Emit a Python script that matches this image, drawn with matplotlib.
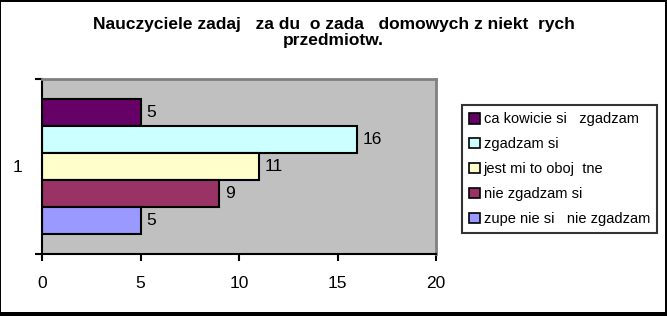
import numpy as np
import matplotlib
matplotlib.use('Agg')
import matplotlib.pyplot as plt
from matplotlib.patches import Rectangle

plt.rcParams['font.family'] = ['Liberation Sans', 'DejaVu Sans']

title = 'Nauczyciele zadaj   za du  o zada   domowych z niekt  rych\nprzedmiotw.'
labels = ['ca kowicie si   zgadzam', 'zgadzam si', 'jest mi to oboj  tne',
          'nie zgadzam si', 'zupe nie si   nie zgadzam']
values = [5, 16, 11, 9, 5]
colors = ['#660066', '#CCFFFF', '#FFFFCC', '#993366', '#9999FF']
category = '1'
xticks = [0, 5, 10, 15, 20]

W, H = 667, 316
fig = plt.figure(figsize=(W / 100, H / 100), dpi=100, facecolor='black')

# white chart area with black frame / shadow
fig.patches.append(Rectangle((1.5 / W, 4.3 / H), (665 - 1.5) / W, (311.7 - 1.5) / H,
                             transform=fig.transFigure, facecolor='white',
                             edgecolor='none', zorder=-10))

ax = fig.add_axes([42 / W, (H - 254) / H, (436 - 42) / W, (254 - 79) / H])
ax.set_facecolor('#C0C0C0')

bar_h = 0.1543
top_gap = 0.1143
n = len(values)
ypos = 0.5 - top_gap - bar_h * (np.arange(n) + 0.5)

for y, v, c, lab in zip(ypos, values, colors, labels):
    b = ax.barh(y, v, height=bar_h, color=c, edgecolor='black', linewidth=1.5, label=lab)
    ax.bar_label(b, padding=4, fontsize=12.5)

ax.set_xlim(0, 20)
ax.set_ylim(-0.5, 0.5)
ax.set_xticks(xticks)
ax.set_xticklabels([str(t) for t in xticks], fontsize=12.5)
ax.set_yticks([-0.5, 0.5])
ax.set_yticklabels([])
ax.set_yticks([0], minor=True)
ax.set_yticklabels([category], minor=True, fontsize=12.5)
ax.tick_params(axis='y', which='minor', length=0, pad=14)
ax.tick_params(axis='both', which='major', length=5, width=1.5, color='black')
ax.tick_params(axis='x', pad=11)

for s in ['left', 'bottom']:
    ax.spines[s].set_color('black')
    ax.spines[s].set_linewidth(1.5)
for s in ['top', 'right']:
    ax.spines[s].set_color('#808080')
    ax.spines[s].set_linewidth(2)

fig.text(333.5 / W, 1 - 32.5 / H, title, ha='center', va='center', fontsize=12.5,
         fontweight='bold', linespacing=1.15)

leg = fig.legend(loc='upper left', bbox_to_anchor=(461.7 / W, 1 - 105 / H),
                 fontsize=10.5, frameon=True, fancybox=False, handlelength=0.75,
                 handleheight=0.75, handletextpad=0.25, labelspacing=0.75,
                 borderpad=0.5, borderaxespad=0)
leg.get_frame().set_edgecolor('black')
leg.get_frame().set_linewidth(1.5)
for h in leg.legend_handles:
    h.set_linewidth(1.2)

fig.savefig('out.png', dpi=100, facecolor=fig.get_facecolor())
